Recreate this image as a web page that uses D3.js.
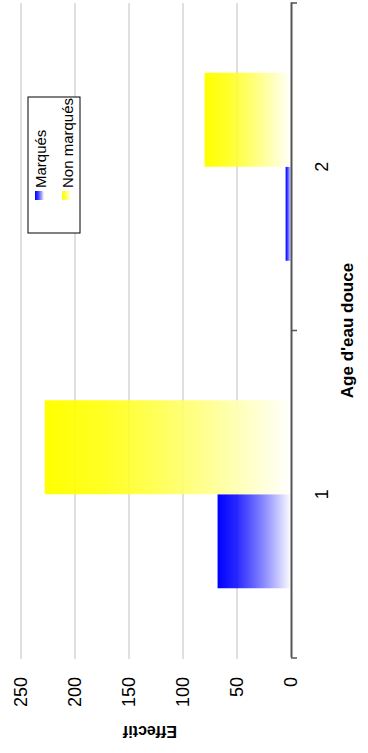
<!DOCTYPE html>
<html><head><meta charset="utf-8">
<script src="https://cdn.jsdelivr.net/npm/d3@7"></script>
<style>body{margin:0;background:#fff}svg{display:block}</style>
</head><body>
<svg id="c" width="368" height="753"></svg>
<script>
const categories = ["1", "2"];
const seriesNames = ["Marqués", "Non marqués"];
const marques = [68, 5];
const nonMarques = [228, 80];
const yTicks = [0, 50, 100, 150, 200, 250];
const seriesColors = ["#0000ff", "#ffff00"];
const xTitle = "Age d'eau douce";
const yTitle = "Effectif";

const W = 753, H = 368;
const svg = d3.select("#c");
const defs = svg.append("defs");
seriesColors.forEach((c, i) => {
  const g = defs.append("linearGradient").attr("id", "grad" + i)
    .attr("x1", 0).attr("y1", 0).attr("x2", 0).attr("y2", 1);
  g.append("stop").attr("offset", "0%").attr("stop-color", c);
  g.append("stop").attr("offset", "25%").attr("stop-color", c).attr("stop-opacity", 0.85);
  g.append("stop").attr("offset", "100%").attr("stop-color", "#ffffff");
});

const root = svg.append("g").attr("transform", `translate(0,${W}) rotate(-90)`);
const font = "Liberation Sans, Arial, sans-serif";

const x = d3.scaleBand().domain(categories).range([95, 750]);
const xs = d3.scaleBand().domain(seriesNames).range([0, x.bandwidth()]).paddingOuter(0.742);
const y = d3.scaleLinear().domain([0, 250]).range([291, 21]);

// gridlines
root.append("g").selectAll("line").data(yTicks.filter(t => t > 0)).join("line")
  .attr("x1", 94).attr("x2", 750)
  .attr("y1", d => y(d)).attr("y2", d => y(d))
  .attr("stroke", "#c0c0c0").attr("stroke-width", 1);

// bars
const data = categories.map((c, i) => ({ cat: c, vals: [marques[i], nonMarques[i]] }));
const cg = root.append("g").selectAll("g").data(data).join("g")
  .attr("transform", d => `translate(${x(d.cat)},0)`);
cg.selectAll("rect").data(d => d.vals.map((v, j) => ({ v, j }))).join("rect")
  .attr("x", d => xs(seriesNames[d.j]))
  .attr("width", xs.bandwidth())
  .attr("y", d => y(d.v))
  .attr("height", d => y(0) - y(d.v))
  .attr("fill", d => `url(#grad${d.j})`);

// y axis labels
const ya = root.append("g").attr("transform", "translate(95,0)")
  .call(d3.axisLeft(y).tickValues(yTicks).tickSize(0).tickPadding(19));
ya.select(".domain").remove();
ya.selectAll("text").attr("font-family", font).attr("font-size", 18).attr("fill", "#000");

// x axis
const xa = root.append("g").attr("transform", "translate(0,291)")
  .call(d3.axisBottom(x).tickSize(0).tickPadding(24));
xa.select(".domain").attr("stroke", "#555").attr("stroke-width", 2);
xa.selectAll("text").attr("font-family", font).attr("font-size", 18).attr("fill", "#000");
const bounds = [x.range()[0]].concat(categories.map(c => x(c) + x.step()));
xa.append("g").selectAll("line").data(bounds).join("line")
  .attr("x1", d => d).attr("x2", d => d).attr("y1", 0).attr("y2", 6)
  .attr("stroke", "#555").attr("stroke-width", 1.5);

// titles
root.append("text").attr("x", (x.range()[0] + x.range()[1]) / 2).attr("y", 353)
  .attr("text-anchor", "middle").attr("font-family", font).attr("font-weight", "bold")
  .attr("font-size", 17).text(xTitle);
const yMid = (y.range()[0] + y.range()[1]) / 2 - 6;
root.append("text")
  .attr("transform", `translate(27,${yMid}) rotate(-90)`)
  .attr("text-anchor", "middle").attr("font-family", font).attr("font-weight", "bold")
  .attr("font-size", 16).text(yTitle);

// legend
const lg = root.append("g").attr("transform", "translate(520,28)");
lg.append("rect").attr("width", 136).attr("height", 52)
  .attr("fill", "#fff").attr("stroke", "#000").attr("stroke-width", 1);
seriesNames.forEach((s, i) => {
  const row = lg.append("g").attr("transform", `translate(33,${12 + i * 27})`);
  row.append("rect").attr("x", 0).attr("y", -5).attr("width", 9).attr("height", 9)
    .attr("fill", `url(#grad${i})`);
  row.append("text").attr("x", 12).attr("y", 5.5).attr("font-family", font)
    .attr("font-size", 15).text(s);
});
</script>
</body></html>
